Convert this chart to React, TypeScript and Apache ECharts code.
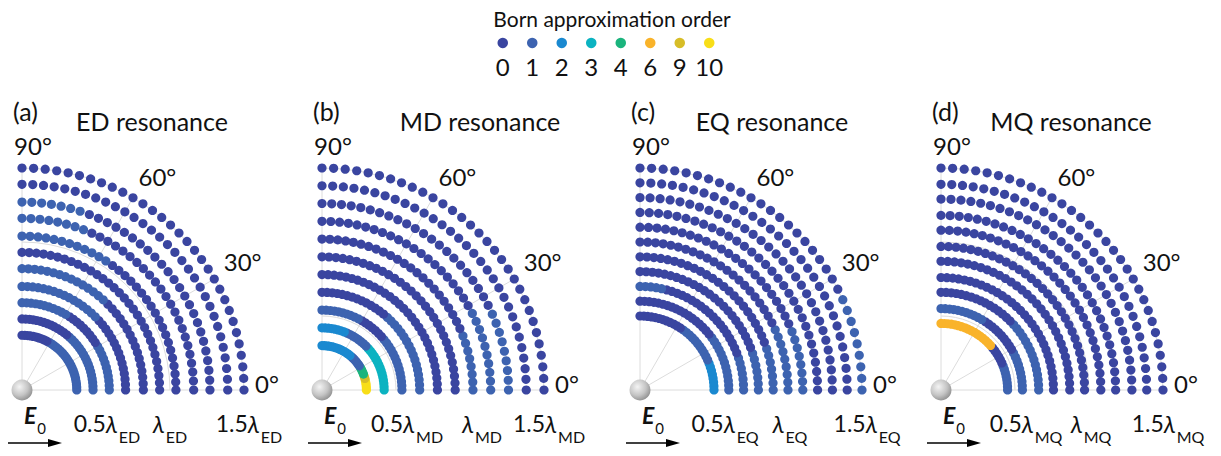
import React, { useEffect, useRef } from 'react';
import * as echarts from 'echarts';

// Born approximation orders shown in the key and their colours
const ORDER_LEVELS = [0, 1, 2, 3, 4, 6, 9, 10];
const ORDER_COLORS = ['#3a45a0', '#3d63b0', '#1a89d0', '#0bb3c1', '#1bb47d', '#f9b32a', '#d7bd27', '#f8de18'];

// Scattering angles sampled on every ring (degrees)
const ANGLES = [0, 3, 6, 9, 12, 15, 18, 21, 24, 27, 30, 33, 36, 39, 42, 45, 48, 51, 54, 57, 60, 63, 66, 69, 72, 75, 78, 81, 84, 87, 90];

// Ring radii in units of the resonance wavelength, inner to outer
const RADII_ED = [0.37, 0.48, 0.59, 0.7, 0.82, 0.93, 1.04, 1.16, 1.27, 1.39, 1.5];
const RADII_MD = [0.3, 0.42, 0.54, 0.66, 0.78, 0.9, 1.02, 1.14, 1.26, 1.38, 1.5];
const RADII_EQ = [0.5, 0.6, 0.7, 0.8, 0.9, 1.0, 1.1, 1.2, 1.3, 1.4, 1.5];
const RADII_MQ = [0.45, 0.55, 0.66, 0.76, 0.87, 0.97, 1.08, 1.18, 1.29, 1.39, 1.5];

// Required order per ring, one character per angle from 0° to 90° ('A' = 10)
const ORDERS_ED = [
  '11111 11111 11111 11111 10000 00000 0',
  '11111 11111 11111 11000 00000 00000 0',
  '11111 11111 10000 00000 11111 11111 1',
  '00000 00000 00000 11111 11111 11111 1',
  '00000 00000 00000 01111 11111 11111 1',
  '00000 00000 00000 00000 00000 00000 0',
  '00000 00000 00000 00001 11111 11111 1',
  '00000 00000 00000 00000 00011 11111 1',
  '00000 00000 00000 00000 00001 11111 1',
  '00000 00000 00000 00000 00000 00000 0',
  '00000 00000 00000 00000 00000 00000 0',
];
const ORDERS_MD = [
  'AAAAA 99444 41111 11222 22222 22222 2',
  '33333 33333 33333 11111 11122 22222 2',
  '11111 11111 11110 00000 01111 11111 1',
  '11111 11111 11111 11000 00000 00000 0',
  '00000 00000 00000 00000 00000 00000 0',
  '00000 00000 00000 00000 00000 00000 0',
  '11111 11100 00000 00000 00000 00000 0',
  '11111 11111 00000 00000 00000 00000 0',
  '11111 11110 00000 00000 00000 00000 0',
  '00000 00000 00000 00000 00000 00000 0',
  '00000 00000 00000 00000 00000 00000 0',
];
const ORDERS_EQ = [
  '22222 22211 11111 11110 00000 00000 0',
  '11111 11111 11100 00000 00000 00000 0',
  '11111 11000 00000 00000 00000 01111 1',
  '11111 11000 00000 00000 00000 00000 0',
  '11111 11000 00000 00000 00000 00000 0',
  '11111 11110 00000 00000 00000 00000 0',
  '11111 11100 00000 00000 00000 00000 0',
  '00000 00000 00000 00000 00000 00000 0',
  '00000 00000 00000 00000 00000 00000 0',
  '00000 00000 00000 00000 00000 00000 0',
  '11111 11110 00000 00000 00000 00000 0',
];
const ORDERS_MQ = [
  '11111 11100 00006 66666 66666 66666 6',
  '11111 11111 00000 00000 11111 11111 1',
  '11111 11111 11111 00000 00000 00000 0',
  '00000 00000 00000 00000 00000 00000 0',
  '00000 00000 00000 00000 00000 00000 0',
  '00000 00000 00000 00000 00000 00000 0',
  '00000 00000 00000 00000 00000 00000 0',
  '00000 00000 00000 00000 00000 00000 0',
  '00000 00000 00000 00000 00000 00000 0',
  '00000 00000 00000 00000 00000 00000 0',
  '00000 00000 00000 00000 00000 00000 0',
];

const PANEL_TAGS = ['(a)', '(b)', '(c)', '(d)'];
const PANEL_TITLES = ['ED resonance', 'MD resonance', 'EQ resonance', 'MQ resonance'];
const RESONANCE_SUBS = ['ED', 'MD', 'EQ', 'MQ'];
const PANEL_RADII = [RADII_ED, RADII_MD, RADII_EQ, RADII_MQ];
const PANEL_ORDERS = [ORDERS_ED, ORDERS_MD, ORDERS_EQ, ORDERS_MQ];

// Layout
const WIDTH = 1221;
const HEIGHT = 456;
const CENTERS_X = [22, 322, 640, 941];
const CENTER_Y = 390;
const OUTER_R = 222;
const TITLE_X = [152, 480, 772, 1071];
const LAMBDA_SHIFT = [0, 24, 4, 4];
const FONT = 'Lato, "Open Sans", "Noto Sans", sans-serif';
const TEXT = '#111';
const GRID_LINE = '#dcdcdc';

function parseOrder(ch: string): number {
  return ch === 'A' ? 10 : Number(ch);
}

function ringPoints(radii: number[], orders: string[]) {
  const pts: number[][] = [];
  radii.forEach((r, i) => {
    const codes = orders[i].replace(/\s/g, '');
    ANGLES.forEach((a, k) => {
      pts.push([r, a, parseOrder(codes[k])]);
    });
  });
  return pts;
}

function buildOption() {
  const polar = CENTERS_X.map((cx) => ({ center: [cx, CENTER_Y], radius: [0, OUTER_R] }));

  const angleAxis = CENTERS_X.map((_, i) => ({
    polarIndex: i,
    type: 'value',
    min: 0,
    max: 90,
    interval: 30,
    startAngle: 0,
    endAngle: 90,
    clockwise: false,
    axisLine: { show: false },
    axisTick: { show: false },
    splitLine: { show: true, lineStyle: { color: GRID_LINE, width: 1 } },
    axisLabel: {
      margin: 11,
      color: TEXT,
      fontSize: 24,
      fontFamily: FONT,
      formatter: (v: number) => `{d${v}|${v}°}`,
      rich: {
        d0: { fontSize: 24, fontFamily: FONT, color: TEXT, padding: [0, 0, 14, 0] },
        d30: { fontSize: 24, fontFamily: FONT, color: TEXT, padding: [0, 0, 0, 0] },
        d60: { fontSize: 24, fontFamily: FONT, color: TEXT },
        d90: { fontSize: 24, fontFamily: FONT, color: TEXT, padding: [0, 0, 0, 22] },
      },
    },
  }));

  const radiusAxis = CENTERS_X.map((_, i) => ({
    polarIndex: i,
    type: 'value',
    min: 0,
    max: 1.5,
    interval: 0.5,
    axisLine: { show: false },
    axisTick: { show: false },
    splitLine: { show: true, lineStyle: { color: GRID_LINE, width: 1 } },
    axisLabel: {
      // the radius axis puts labels on the upper side; a negative margin sends them below the baseline
      margin: -45,
      color: TEXT,
      fontFamily: FONT,
      formatter: (v: number) => {
        if (v === 0) return '';
        const sub = RESONANCE_SUBS[i];
        if (v === 1) return `{p|}{l|λ}{s|${sub}}`;
        const key = v < 1 ? 'h' : 'w';
        return `{${key}|${v}}{l|λ}{s|${sub}}`;
      },
      rich: {
        p: { fontSize: 23, lineHeight: 24, width: LAMBDA_SHIFT[i], verticalAlign: 'top' },
        h: { fontSize: 23, fontFamily: FONT, color: TEXT, lineHeight: 24, verticalAlign: 'top', padding: [0, 0, 0, 22] },
        w: { fontSize: 23, fontFamily: FONT, color: TEXT, lineHeight: 24, verticalAlign: 'top', padding: [0, 0, 0, 10] },
        l: { fontSize: 24, fontFamily: FONT, fontStyle: 'italic', color: TEXT, lineHeight: 24, verticalAlign: 'top' },
        s: { fontSize: 16, fontFamily: FONT, color: TEXT, lineHeight: 16, padding: [17, 0, 0, 1], verticalAlign: 'top' },
      },
    },
  }));

  const ringSeries = PANEL_RADII.map((radii, i) => ({
    type: 'scatter',
    coordinateSystem: 'polar',
    polarIndex: i,
    symbolSize: 9.2,
    itemStyle: { opacity: 1 },
    data: ringPoints(radii, PANEL_ORDERS[i]),
    z: 3,
  }));

  const keySeries = {
    type: 'scatter',
    xAxisIndex: 0,
    yAxisIndex: 0,
    symbolSize: 10.5,
    itemStyle: { opacity: 1 },
    data: ORDER_LEVELS.map((o, i) => [i, 0, o]),
  };

  const sphereGradient = new echarts.graphic.RadialGradient(0.38, 0.35, 0.75, [
    { offset: 0, color: '#f4f4f4' },
    { offset: 0.55, color: '#c4c4c4' },
    { offset: 1, color: '#858585' },
  ]);
  const sphereSeries = CENTERS_X.map((_, i) => ({
    type: 'scatter',
    coordinateSystem: 'polar',
    polarIndex: i,
    symbolSize: 21,
    data: [[0, 0]],
    itemStyle: { color: sphereGradient, opacity: 1 },
    z: 4,
  }));

  const graphics: any[] = [
    {
      type: 'text',
      x: 612,
      y: 18,
      style: { text: 'Born approximation order', fontSize: 21, fontFamily: FONT, fill: TEXT, align: 'center', verticalAlign: 'middle' },
    },
  ];
  CENTERS_X.forEach((cx, i) => {
    graphics.push(
      {
        type: 'text',
        x: cx - 9,
        y: 111,
        style: { text: PANEL_TAGS[i], fontSize: 25, fontFamily: FONT, fill: TEXT, align: 'left', verticalAlign: 'middle' },
      },
      {
        type: 'text',
        x: TITLE_X[i],
        y: 121,
        style: { text: PANEL_TITLES[i], fontSize: 25, fontFamily: FONT, fill: TEXT, align: 'center', verticalAlign: 'middle' },
      },
      {
        type: 'text',
        x: cx + 2,
        y: 403,
        style: {
          text: '{e|E}{z|0}',
          align: 'left',
          verticalAlign: 'top',
          rich: {
            e: { fontSize: 23, fontFamily: FONT, fontWeight: 'bold', fontStyle: 'italic', fill: TEXT, lineHeight: 24, verticalAlign: 'top' },
            z: { fontSize: 15, fontFamily: FONT, fill: TEXT, lineHeight: 15, padding: [17, 0, 0, 1], verticalAlign: 'top' },
          },
        },
      },
      {
        type: 'line',
        shape: { x1: cx - 14, y1: 443, x2: cx + 30, y2: 443 },
        style: { stroke: '#000', lineWidth: 1.3 },
      },
      {
        type: 'polygon',
        shape: { points: [[cx + 26, 439], [cx + 40, 443], [cx + 26, 447]] },
        style: { fill: '#000' },
      }
    );
  });

  return {
    animation: false,
    backgroundColor: '#fff',
    textStyle: { fontFamily: FONT },
    polar,
    angleAxis,
    radiusAxis,
    grid: { left: 488, top: 38, width: 236, height: 10 },
    xAxis: {
      type: 'category',
      data: ORDER_LEVELS.map(String),
      axisLine: { show: false },
      axisTick: { show: false },
      axisLabel: { fontSize: 24, fontFamily: FONT, color: TEXT, margin: 6, interval: 0 },
    },
    yAxis: { type: 'value', min: -1, max: 1, show: false },
    visualMap: {
      type: 'piecewise',
      show: false,
      dimension: 2,
      seriesIndex: [0, 1, 2, 3, 4],
      pieces: ORDER_LEVELS.map((v, i) => ({ value: v, color: ORDER_COLORS[i] })),
    },
    series: [...ringSeries, keySeries, ...sphereSeries],
    graphic: graphics,
  };
}

export default function App() {
  const ref = useRef<HTMLDivElement>(null);
  useEffect(() => {
    if (!ref.current) return;
    const chart = echarts.init(ref.current, undefined, { renderer: 'svg' });
    chart.setOption(buildOption() as any);
    return () => chart.dispose();
  }, []);
  return (
    <div
      ref={ref}
      style={{ position: 'absolute', left: 0, top: 0, width: WIDTH, height: HEIGHT, background: '#fff' }}
    />
  );
}
